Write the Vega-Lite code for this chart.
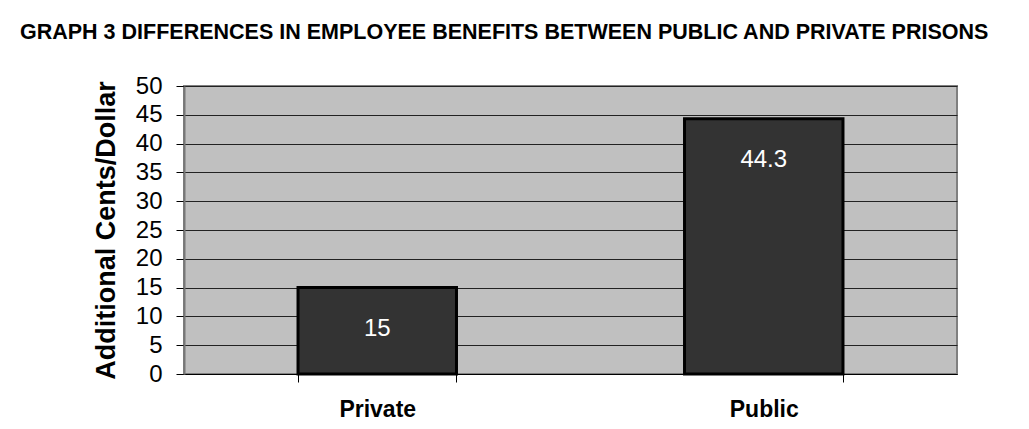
{
  "$schema": "https://vega.github.io/schema/vega-lite/v6.json",
  "autosize": "none",
  "width": 773,
  "height": 288,
  "padding": {"left": 184, "top": 86, "right": 72, "bottom": 55},
  "background": "white",
  "title": {
    "text": "GRAPH 3   DIFFERENCES IN EMPLOYEE BENEFITS BETWEEN PUBLIC AND PRIVATE PRISONS",
    "anchor": "start",
    "frame": "group",
    "dx": -164,
    "offset": 31,
    "font": "Liberation Sans",
    "fontSize": 21.5,
    "fontWeight": "bold",
    "color": "black"
  },
  "data": {
    "values": [
      {"sector": "Private", "cents": 15},
      {"sector": "Public", "cents": 44.3}
    ]
  },
  "encoding": {
    "x": {
      "field": "sector",
      "type": "nominal",
      "sort": null,
      "scale": {"paddingInner": 0.59, "paddingOuter": 0.295},
      "axis": {
        "title": null,
        "labelAngle": 0,
        "labelFont": "Liberation Sans",
        "labelFontSize": 23,
        "labelFontWeight": "bold",
        "labelColor": "black",
        "labelPadding": 16,
        "tickBand": "extent",
        "tickSize": 8,
        "tickColor": "black",
        "domainColor": "black",
        "domainWidth": 1,
        "grid": false
      }
    },
    "y": {
      "field": "cents",
      "type": "quantitative",
      "scale": {"domain": [0, 50], "nice": false},
      "axis": {
        "title": "Additional Cents/Dollar",
        "titleFont": "Liberation Sans",
        "titleFontSize": 27,
        "titleFontWeight": "bold",
        "titleColor": "black",
        "titlePadding": 15,
        "values": [0, 5, 10, 15, 20, 25, 30, 35, 40, 45, 50],
        "labelOverlap": false,
        "labelFont": "Liberation Sans",
        "labelFontSize": 24,
        "labelColor": "black",
        "labelPadding": 14,
        "tickSize": 8,
        "tickColor": "black",
        "domainColor": "#777777",
        "domainWidth": 2,
        "grid": true,
        "gridColor": "#222222",
        "gridWidth": 1,
        "gridOpacity": 1
      }
    }
  },
  "layer": [
    {
      "mark": {"type": "bar", "fill": "#333333", "stroke": "black", "strokeWidth": 3}
    },
    {
      "mark": {"type": "text", "color": "white", "font": "Liberation Sans", "fontSize": 24, "baseline": "middle", "dy": 41},
      "encoding": {
        "text": {"field": "cents", "type": "quantitative"}
      }
    }
  ],
  "config": {
    "view": {"fill": "#C0C0C0", "stroke": "#808080", "strokeWidth": 2}
  }
}
